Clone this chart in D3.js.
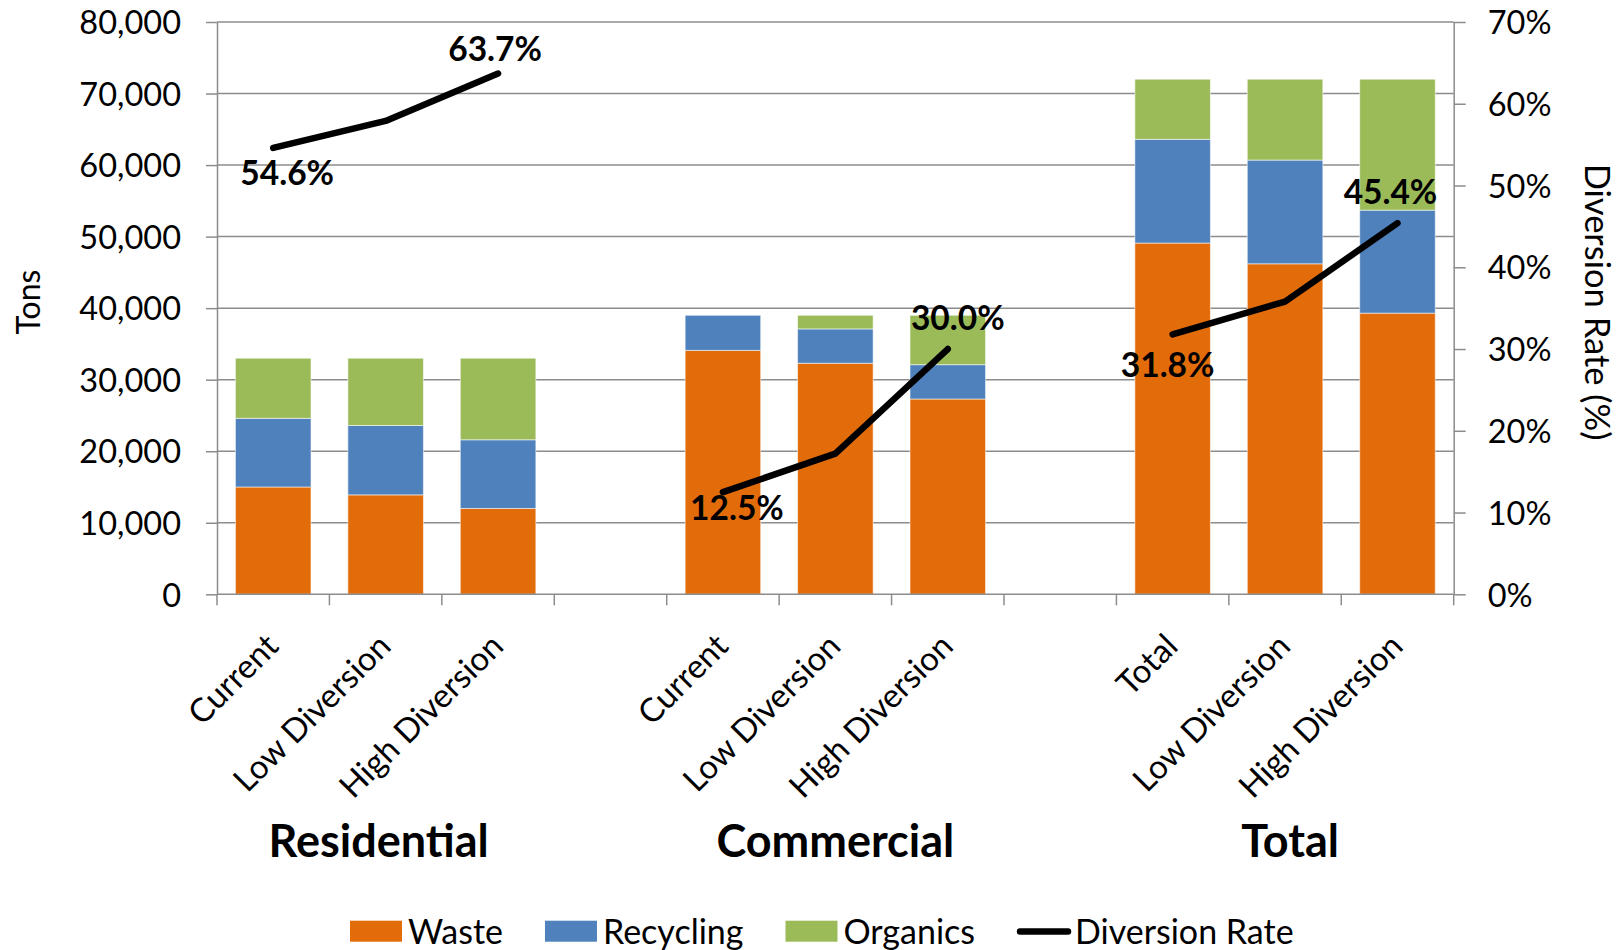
<!DOCTYPE html>
<html>
<head>
<meta charset="utf-8">
<script src="https://cdn.jsdelivr.net/npm/d3@7"></script>
<style>
  html, body { margin: 0; padding: 0; background: #fff; }
  svg { display: block; font-family: Lato, "Open Sans", sans-serif; }
</style>
</head>
<body>
<svg id="chart" width="1621" height="950"></svg>
<script>
// ---- data ----
const categories = ["Current", "Low Diversion", "High Diversion", "",
                    "Current", "Low Diversion", "High Diversion", "",
                    "Total", "Low Diversion", "High Diversion"];
const groups = ["Residential", "Commercial", "Total"];
const waste     = [15000, 13900, 12000, null, 34100, 32300, 27300, null, 49100, 46200, 39300];
const recycling = [ 9600,  9700,  9600, null,  4900,  4800,  4800, null, 14500, 14500, 14400];
const organics  = [ 8400,  9400, 11400, null,     0,  1900,  6900, null,  8400, 11300, 18300];
const diversionRate = [54.6, 57.9, 63.7, null, 12.5, 17.2, 30.0, null, 31.8, 35.8, 45.4];
const rateLabels = ["54.6%", null, "63.7%", null, "12.5%", null, "30.0%", null, "31.8%", null, "45.4%"];
const tonTicks = [0, 10000, 20000, 30000, 40000, 50000, 60000, 70000, 80000];
const rateTicks = [0, 10, 20, 30, 40, 50, 60, 70];
const seriesNames = ["Waste", "Recycling", "Organics"];
const seriesColors = ["#E36C0A", "#4F81BD", "#9BBB59"];

(function () {
// ---- layout ----
const svg = d3.select("#chart");
const mLeft = 217, mRight = 1453.7, mTop = 22, mBottom = 594.3;
const gridColor = "#8c8c8c";

const x = d3.scaleBand()
  .domain(d3.range(categories.length))
  .range([mLeft, mRight])
  .paddingInner(0.328)
  .paddingOuter(0.164);
const y = d3.scaleLinear().domain([0, 80000]).range([mBottom, mTop]);
const y2 = d3.scaleLinear().domain([0, 70]).range([mBottom, mTop]);

// gridlines
svg.append("g").selectAll("line")
  .data(tonTicks.filter(d => d > 0))
  .join("line")
  .attr("x1", mLeft).attr("x2", mRight)
  .attr("y1", d => y(d)).attr("y2", d => y(d))
  .attr("stroke", gridColor).attr("stroke-width", 1.5);

// stacked bars
const rows = categories.map((c, i) => ({i, Waste: waste[i] || 0, Recycling: recycling[i] || 0, Organics: organics[i] || 0}));
const stack = d3.stack().keys(seriesNames)(rows);
svg.append("g").selectAll("g")
  .data(stack)
  .join("g")
  .attr("fill", (d, k) => seriesColors[k])
  .selectAll("rect")
  .data(d => d.filter(s => waste[s.data.i] != null && s[1] > s[0]))
  .join("rect")
  .attr("x", s => x(s.data.i))
  .attr("width", x.bandwidth())
  .attr("y", s => y(s[1]))
  .attr("height", s => y(s[0]) - y(s[1]))
  .attr("stroke", "#ffffff").attr("stroke-opacity", 0.55).attr("stroke-width", 1);

// left axis
const yAxis = svg.append("g")
  .attr("transform", `translate(${mLeft},0)`)
  .call(d3.axisLeft(y).tickValues(tonTicks).tickFormat(d3.format(",")).tickSize(11).tickSizeOuter(0).tickPadding(25));
yAxis.select(".domain").attr("stroke", gridColor).attr("stroke-width", 1.5);
yAxis.selectAll(".tick line").attr("stroke", gridColor).attr("stroke-width", 1.5);
yAxis.selectAll(".tick text").attr("font-size", 32.5).attr("font-family", "Lato").attr("fill", "#000").attr("dy", "0.36em");

// right axis
const y2Axis = svg.append("g")
  .attr("transform", `translate(${mRight},0)`)
  .call(d3.axisRight(y2).tickValues(rateTicks).tickFormat(d => d + "%").tickSize(12).tickSizeOuter(0).tickPadding(22));
y2Axis.select(".domain").attr("stroke", gridColor).attr("stroke-width", 1.5);
y2Axis.selectAll(".tick line").attr("stroke", gridColor).attr("stroke-width", 1.5);
y2Axis.selectAll(".tick text").attr("font-size", 32.5).attr("font-family", "Lato").attr("fill", "#000").attr("dy", "0.36em");

// bottom axis
const step = x.step();
svg.append("line")
  .attr("x1", mLeft).attr("x2", mRight)
  .attr("y1", mBottom).attr("y2", mBottom)
  .attr("stroke", gridColor).attr("stroke-width", 1.5);
svg.append("g").selectAll("line")
  .data(d3.range(categories.length + 1))
  .join("line")
  .attr("x1", i => mLeft + i * step).attr("x2", i => mLeft + i * step)
  .attr("y1", mBottom).attr("y2", mBottom + 11)
  .attr("stroke", gridColor).attr("stroke-width", 1.5);

// category labels
svg.append("g").selectAll("text")
  .data(categories.map((c, i) => ({c, i})).filter(d => d.c))
  .join("text")
  .attr("transform", d => `translate(${x(d.i) + x.bandwidth() / 2 - 1},640) rotate(-45)`)
  .attr("text-anchor", "end")
  .attr("dy", "0.35em")
  .attr("font-size", 33)
  .attr("fill", "#000")
  .text(d => d.c);

// group labels (small manual nudges as in the original)
const groupNudge = [-7, 0, 5];
svg.append("g").selectAll("text")
  .data(groups)
  .join("text")
  .attr("x", (g, k) => x(k * 4 + 1) + x.bandwidth() / 2 + groupNudge[k])
  .attr("y", 857)
  .attr("text-anchor", "middle")
  .attr("font-size", 45)
  .attr("font-weight", "bold")
  .attr("fill", "#000")
  .text(g => g);

// diversion line
const line = d3.line()
  .defined(d => d.v != null)
  .x(d => x(d.i) + x.bandwidth() / 2)
  .y(d => y2(d.v));
const ratePts = diversionRate.map((v, i) => ({v, i}));
svg.append("path")
  .datum(ratePts)
  .attr("d", line)
  .attr("fill", "none")
  .attr("stroke", "#000")
  .attr("stroke-width", 6.5)
  .attr("stroke-linecap", "round")
  .attr("stroke-linejoin", "round");

// rate labels (manually nudged as in the original)
const nudges = {0: [14, 25], 2: [-3, -25], 4: [14, 16], 6: [10, -31], 8: [-5, 31], 10: [-7, -31]};
svg.append("g").selectAll("text")
  .data(ratePts.filter(d => rateLabels[d.i]))
  .join("text")
  .attr("x", d => x(d.i) + x.bandwidth() / 2 + nudges[d.i][0])
  .attr("y", d => y2(d.v) + nudges[d.i][1])
  .attr("dy", "0.36em")
  .attr("text-anchor", "middle")
  .attr("font-size", 33.5)
  .attr("font-weight", "bold")
  .attr("fill", "#000")
  .text(d => rateLabels[d.i]);

// axis titles
svg.append("text")
  .attr("transform", "translate(28,302) rotate(-90)")
  .attr("text-anchor", "middle")
  .attr("dy", "0.36em")
  .attr("font-size", 32)
  .attr("fill", "#000")
  .text("Tons");
svg.append("text")
  .attr("transform", "translate(1597,302) rotate(90)")
  .attr("text-anchor", "middle")
  .attr("dy", "0.36em")
  .attr("font-size", 34.5)
  .attr("fill", "#000")
  .text("Diversion Rate (%)");

// legend
const legend = svg.append("g");
let lx = 350;
const legendItems = seriesNames.map((n, k) => ({name: n, color: seriesColors[k], type: "rect"}))
  .concat([{name: "Diversion Rate", color: "#000", type: "line"}]);
legendItems.forEach(item => {
  if (item.type === "rect") {
    legend.append("rect").attr("x", lx).attr("y", 920.7).attr("width", 52).attr("height", 21).attr("fill", item.color);
  } else {
    legend.append("line").attr("x1", lx + 3).attr("x2", lx + 51).attr("y1", 931.5).attr("y2", 931.5)
      .attr("stroke", item.color).attr("stroke-width", 6.5).attr("stroke-linecap", "round");
  }
  const t = legend.append("text")
    .attr("x", lx + 58).attr("y", 931.5).attr("dy", "0.36em")
    .attr("font-size", 34).attr("fill", "#000").text(item.name);
  lx = lx + 58 + t.node().getComputedTextLength() + 42;
});
})();
</script>
</body>
</html>
